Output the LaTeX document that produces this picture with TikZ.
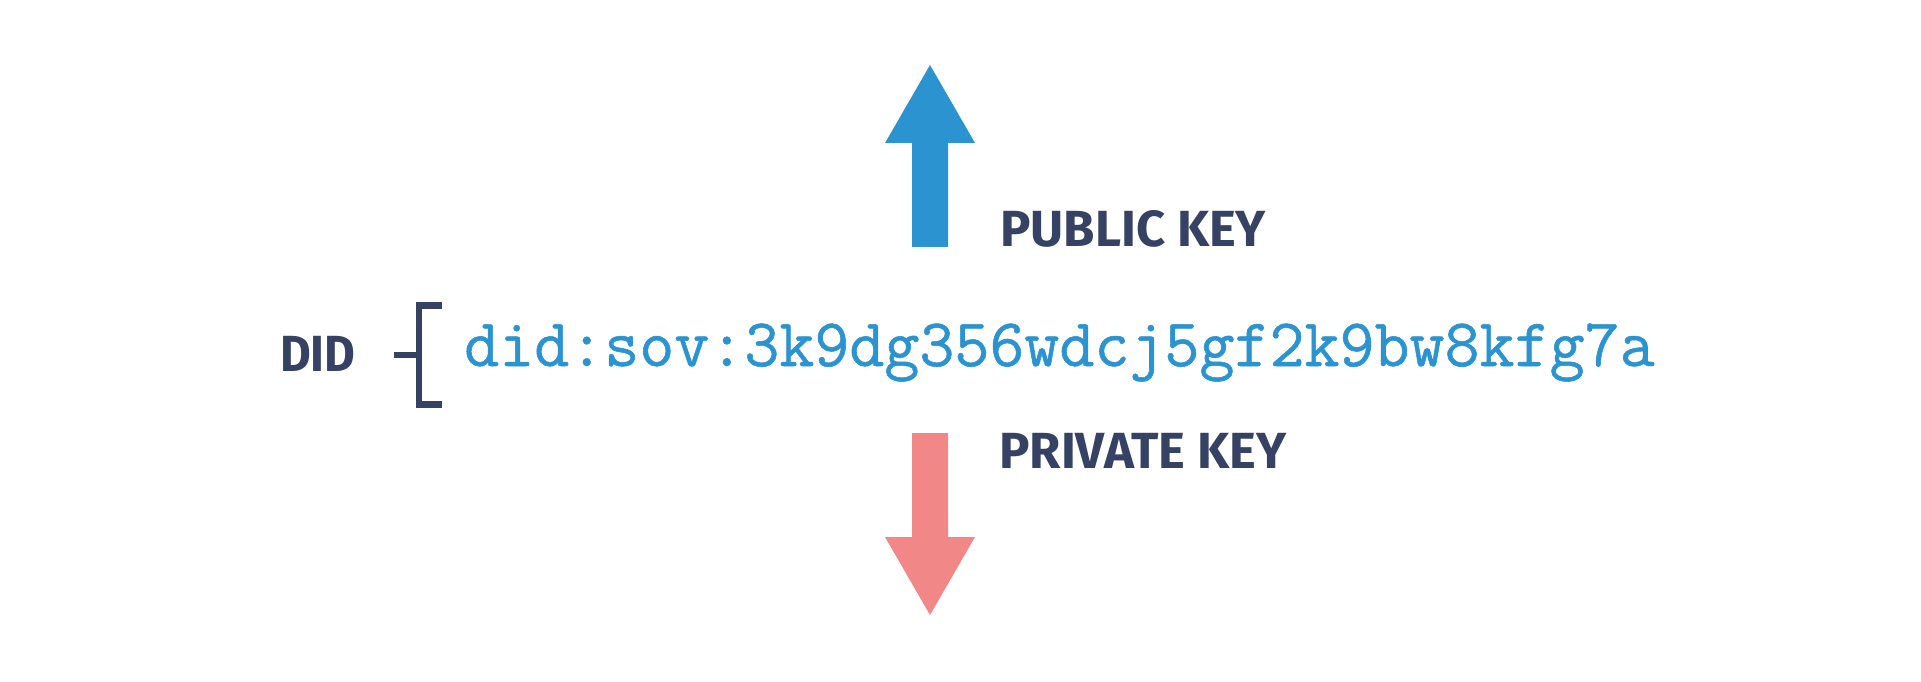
\documentclass[tikz,border=0pt]{standalone}
\usepackage{fontspec}
\newfontfamily\keyfont{Fira Sans}
\newfontfamily\didfont{Latin Modern Mono}[FakeBold=0.8]

\definecolor{didnavy}{HTML}{364263}
\definecolor{didblue}{HTML}{2A93D0}
\definecolor{didpink}{HTML}{F28787}

\tikzset{
  keylabel/.style={anchor=base west, inner sep=0pt, text=didnavy,
    font=\keyfont\bfseries\fontsize{50.8}{50.8}\selectfont},
  didstring/.style={anchor=base west, inner sep=0pt, text=didblue,
    font=\didfont\fontsize{68}{68}\selectfont},
  bracket/.style={didnavy, line width=6.5, line join=miter}
}

\begin{document}
\begin{tikzpicture}[x=1pt,y=1pt]
\useasboundingbox (0,0) rectangle (1921,681);

\fill[didblue] (912,434) -- (912,538) -- (885,538) -- (930,616) -- (975,538) -- (948,538) -- (948,434) -- cycle;
\fill[didpink] (912,248) -- (912,144) -- (885,144) -- (930,66) -- (975,144) -- (948,144) -- (948,248) -- cycle;

\node[keylabel] (pub) at (1000,434) {PUBLIC KEY};
\node[keylabel] (priv) at (999,213) {PRIVATE KEY};
\node[keylabel] (did) at (280,310) {\scalebox{0.93}[1]{DID}};

\coordinate (tick) at (394,326);
\draw[bracket] (tick) -- ++(25,0);
\draw[bracket] (442,375.5) -- (419,375.5) -- (419,276.5) -- (442,276.5);

\node[didstring] (didstr) at (464,315) {did:sov:3k9dg356wdcj5gf2k9bw8kfg7a};

\end{tikzpicture}
\end{document}
